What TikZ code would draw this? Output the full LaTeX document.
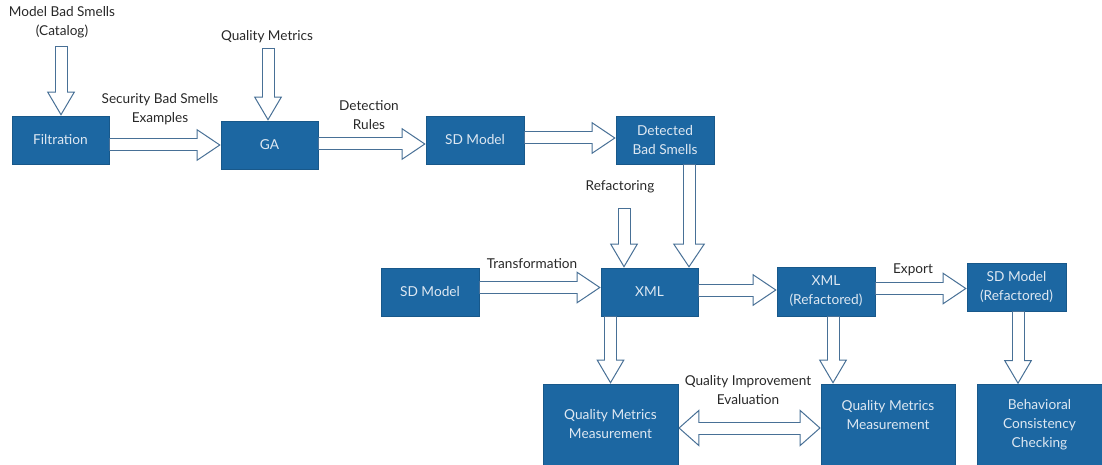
\documentclass[tikz,border=0pt]{standalone}
\usepackage{fontspec}
\setmainfont{Lato}
\usetikzlibrary{arrows.meta}
\definecolor{boxblue}{RGB}{28,103,162}
\definecolor{edgeblue}{RGB}{72,112,150}
\definecolor{boxtext}{RGB}{222,232,242}
\definecolor{labelgray}{RGB}{40,40,40}
\begin{document}
\begin{tikzpicture}[x=1pt, y=-1pt,
    box/.style={fill=boxblue, draw=boxblue!85!black, line width=0.6pt, text=boxtext, align=center,
      font=\fontsize{13.7}{19}\selectfont, inner sep=0pt},
    lbl/.style={text=labelgray, align=center, font=\fontsize{13.6}{19}\selectfont, inner sep=1pt},
    fat/.style={line width=13pt, draw=edgeblue,
      -{Triangle[length=24pt, width=#1, line width=1pt, fill=white]},
      postaction={draw=white, line width=11pt, -, shorten <=1pt, shorten >=21pt}},
    fat/.default=32pt,
    fatboth/.style={line width=13pt, draw=edgeblue,
      {Triangle[length=21pt, width=37pt, line width=1pt, fill=white]}-{Triangle[length=21pt, width=37pt, line width=1pt, fill=white]},
      postaction={draw=white, line width=11pt, -, shorten <=18pt, shorten >=18pt}}]
    \useasboundingbox (0,0) rectangle (1102,465);

    % top row
    \node[box, minimum width=97pt, minimum height=48pt] (filt) at (60.5,140) {Filtration};
    \node[box, minimum width=97pt, minimum height=48pt] (ga) at (269.5,145) {GA};
    \node[box, minimum width=98pt, minimum height=48pt] (sdm) at (475,140) {SD Model};
    \node[box, minimum width=98pt, minimum height=48pt] (det) at (665,140) {Detected\\Bad Smells};

    % middle row
    \node[box, minimum width=98pt, minimum height=48pt] (sdm2) at (430,292) {SD Model};
    \node[box, minimum width=97pt, minimum height=48pt] (xml) at (649.5,292) {XML};
    \node[box, minimum width=98pt, minimum height=49pt] (xmlr) at (826,291.5) {XML\\(Refactored)};
    \node[box, minimum width=99pt, minimum height=48pt] (sdmr) at (1016.5,287) {SD Model\\(Refactored)};

    % bottom row
    \node[box, minimum width=135pt, minimum height=81pt] (qmm1) at (610.5,424.5) {Quality Metrics\\Measurement};
    \node[box, minimum width=134pt, minimum height=81pt] (qmm2) at (888,424.5) {Quality Metrics\\Measurement\\\mbox{}};
    \node[box, minimum width=125pt, minimum height=81pt] (beh) at (1039.5,425) {Behavioral\\Consistency\\Checking};

    % labels
    \node[lbl] (catalog) at (62,22) {Model Bad Smells\\(Catalog)};
    \node[lbl] (qmlab) at (267,37) {Quality Metrics};
    \node[lbl] (seclab) at (160,109) {Security Bad Smells\\Examples};
    \node[lbl] (detlab) at (369,115) {Detection\\Rules};
    \node[lbl] (reflab) at (620,187) {Refactoring};
    \node[lbl] (trlab) at (532,264) {Transformation};
    \node[lbl] (explab) at (913,270) {Export};
    \node[lbl] (qilab) at (748,390) {Quality Improvement\\Evaluation};

    \coordinate (cattop) at (61,46);
    \coordinate (qmtop) at (268,48);
    \coordinate (reftop) at (624,208);

    % arrows
    \draw[fat=28pt] (cattop) -- (cattop |- filt.north);
    \draw[fat=28pt] (qmtop) -- (qmtop |- ga.north);
    \draw[fat] (filt.east |- ga.west) -- (ga.west);
    \draw[fat] ([yshift=1pt]ga.east) -- ([yshift=1pt]ga.east -| sdm.west);
    \draw[fat] ([yshift=2pt]sdm.east) -- ([yshift=2pt]det.west);
    \draw[fat] ([xshift=24pt]det.south) -- ([xshift=24pt]det.south |- xml.north);
    \draw[fat=28pt] (reftop) -- (reftop |- xml.north);
    \draw[fat] ([yshift=4.5pt]sdm2.east) -- ([yshift=4.5pt]xml.west);
    \draw[fat] ([yshift=2pt]xml.east) -- ([yshift=2pt]xml.east -| xmlr.west);
    \draw[fat] ([yshift=3pt]xmlr.east) -- ([yshift=3pt]xmlr.east -| sdmr.west);
    \draw[fat=28pt] (qmm1.north |- xml.south) -- (qmm1.north);
    \draw[fat=28pt] ([xshift=7pt]xmlr.south) -- ([xshift=7pt]xmlr.south |- qmm2.north);
    \draw[fat=28pt] ([xshift=1.5pt]sdmr.south) -- ([xshift=1.5pt]sdmr.south |- beh.north);
    \draw[fatboth] ([yshift=-3.5pt]qmm1.east) -- ([yshift=-3.5pt]qmm2.west);
\end{tikzpicture}
\end{document}
